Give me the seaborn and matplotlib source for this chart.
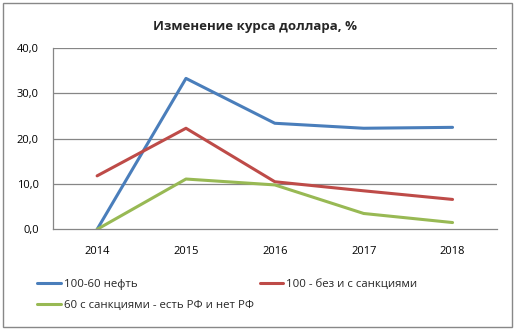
import matplotlib
matplotlib.use("Agg")
import matplotlib.pyplot as plt
import seaborn as sns
import pandas as pd
from matplotlib.patches import Rectangle
from matplotlib.ticker import FuncFormatter

years = ["2014", "2015", "2016", "2017", "2018"]
series_names = ["100-60 нефть", "100 - без и с санкциями", "60 с санкциями - есть РФ и нет РФ"]
oil_100_60 = [0.0, 33.3, 23.4, 22.3, 22.5]
sanctions_100 = [11.8, 22.3, 10.5, 8.5, 6.6]
sanctions_60 = [0.0, 11.1, 9.8, 3.5, 1.5]
y_ticks = [0, 10, 20, 30, 40]
colors = ["#4A7EBB", "#BE4B48", "#98B954"]
title = "Изменение курса доллара, %"

sns.set_theme(style="white")
plt.rcParams["font.family"] = ["Open Sans", "DejaVu Sans"]

rows = []
for name, values in zip(series_names, [oil_100_60, sanctions_100, sanctions_60]):
    for i, v in enumerate(values):
        rows.append({"idx": i, "value": v, "series": name})
df = pd.DataFrame(rows)

fig = plt.figure(figsize=(5.15, 3.3), dpi=100)
ax = fig.add_axes([0.1023, 0.305, 0.8627, 0.5495])

sns.lineplot(data=df, x="idx", y="value", hue="series", hue_order=series_names,
             palette=colors, linewidth=2.2, ax=ax, legend=False, sort=False)

grid_c = "#868686"
ax.set_xlim(-0.5, len(years) - 0.5)
ax.set_ylim(0, 40)
ax.set_yticks(y_ticks)
ax.yaxis.set_major_formatter(FuncFormatter(lambda v, p: f"{v:.1f}".replace(".", ",")))
ax.set_xticks(range(len(years)))
ax.set_xticklabels(years)
ax.set_xticks([i - 0.5 for i in range(len(years) + 1)], minor=True)
ax.tick_params(axis="x", which="major", length=0, pad=12, labelsize=8, colors="black")
ax.tick_params(axis="x", which="minor", length=4, width=0.8, color=grid_c, direction="out")
ax.tick_params(axis="y", which="major", length=4.5, width=0.8, color=grid_c, direction="out",
               pad=5.5, labelsize=8, labelcolor="black")
for yv in y_ticks[1:]:
    ax.axhline(yv, color=grid_c, linewidth=0.9, zorder=0)
for side in ["top", "right"]:
    ax.spines[side].set_visible(False)
for side in ["left", "bottom"]:
    ax.spines[side].set_color(grid_c)
    ax.spines[side].set_linewidth(0.9)
ax.set_xlabel("")
ax.set_ylabel("")

fig.text(0.495, 0.921, title, ha="center", va="center", fontsize=9.5, fontweight="bold")

# Legend: two rows, first row holds two entries
handles = [plt.Line2D([], [], color=c, linewidth=2.2) for c in colors]
order = [0, 2, 1]
fig.legend([handles[i] for i in order], [series_names[i] for i in order],
           ncol=2, loc="upper left", bbox_to_anchor=(0.072, 0.155), frameon=False,
           fontsize=8.2, handlelength=2.1, handletextpad=0.25, columnspacing=0.5,
           labelspacing=0.85, borderpad=0, borderaxespad=0)

# Outer chart frame
fig.patches.append(Rectangle((3 / 515, 3 / 330), 509 / 515, 324 / 330, transform=fig.transFigure,
                             fill=False, edgecolor="#888888", linewidth=1.0))

fig.savefig("out.png", dpi=100)
